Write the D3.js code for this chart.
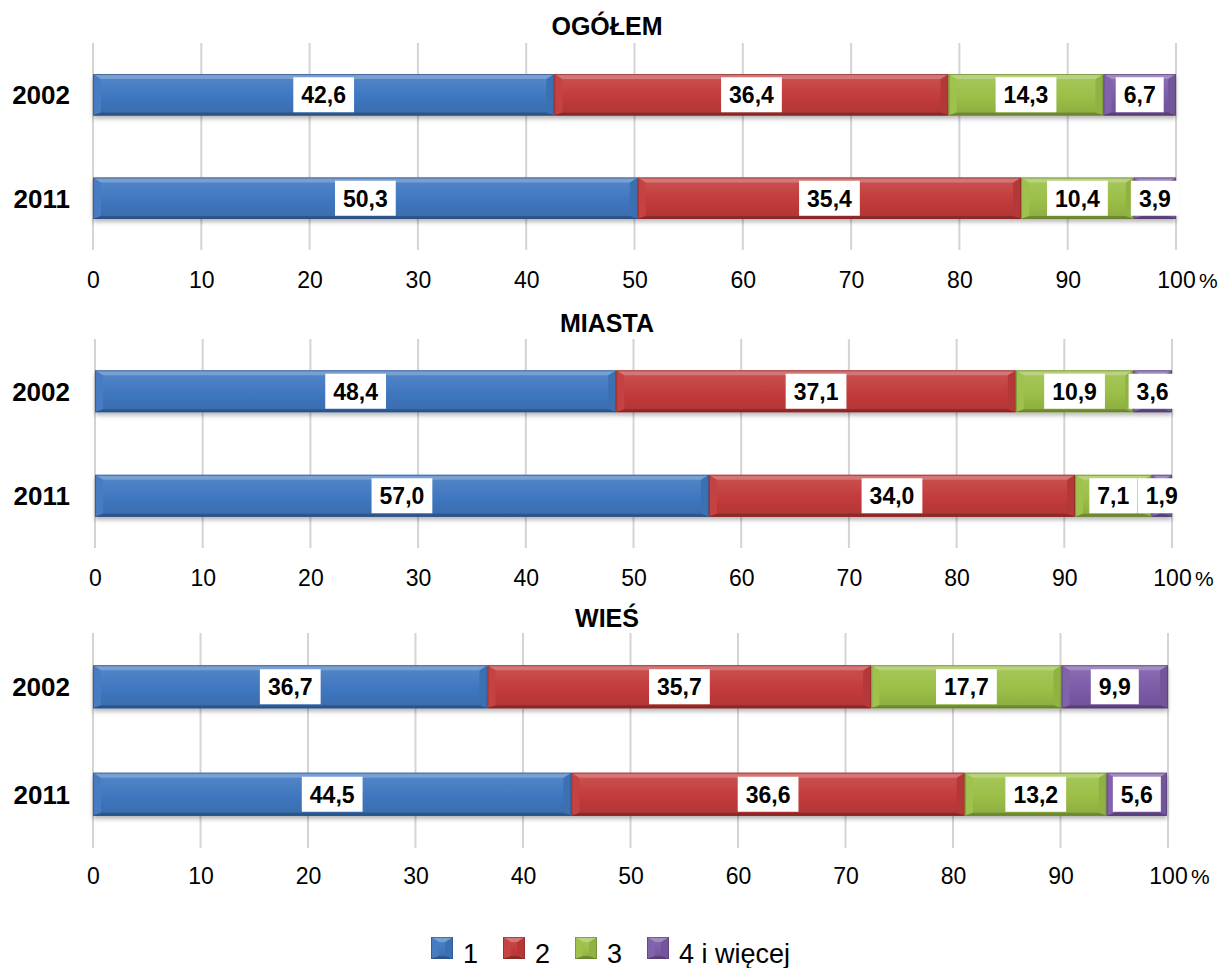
<!DOCTYPE html>
<html>
<head>
<meta charset="utf-8">
<script src="https://cdn.jsdelivr.net/npm/d3@7"></script>
<style>
  html, body { margin: 0; padding: 0; background: #fff; }
  svg { display: block; font-family: "Liberation Sans", Arial, sans-serif; }
</style>
</head>
<body>
<svg id="chart" width="1220" height="968"></svg>
<script>
// ---- data ----
const categories = ["2002", "2011"];
const seriesNames = ["1", "2", "3", "4 i więcej"];
const panelTitles = ["OGÓŁEM", "MIASTA", "WIEŚ"];
const ogolem2002 = [42.6, 36.4, 14.3, 6.7];
const ogolem2011 = [50.3, 35.4, 10.4, 3.9];
const miasta2002 = [48.4, 37.1, 10.9, 3.6];
const miasta2011 = [57.0, 34.0, 7.1, 1.9];
const wies2002 = [36.7, 35.7, 17.7, 9.9];
const wies2011 = [44.5, 36.6, 13.2, 5.6];
const tickValues = [0, 10, 20, 30, 40, 50, 60, 70, 80, 90, 100];
const seriesColors = ["#3f77c0", "#c33b3b", "#9bbf47", "#7c5ba8"];

const panelData = [
  [ogolem2002, ogolem2011],
  [miasta2002, miasta2011],
  [wies2002, wies2011]
];

// ---- layout ----
const layouts = [
  { x0: 93, x1: 1176, top: 43, bottom: 250, titleY: 35, tickY: 288 },
  { x0: 95, x1: 1172, top: 339, bottom: 548, titleY: 332, tickY: 586 },
  { x0: 93, x1: 1168, top: 633, bottom: 848, titleY: 627, tickY: 884 }
];

const svg = d3.select("#chart");
const defs = svg.append("defs");
const shadow = defs.append("filter").attr("id", "shadow")
  .attr("x", "-5%").attr("y", "-30%").attr("width", "110%").attr("height", "180%");
shadow.append("feDropShadow").attr("dx", 0).attr("dy", 3).attr("stdDeviation", 2.2)
  .attr("flood-color", "#000").attr("flood-opacity", 0.28);

const mixW = (c, t) => d3.interpolateRgb(c, "#ffffff")(t);
const mixB = (c, t) => d3.interpolateRgb(c, "#000000")(t);

seriesColors.forEach((c, i) => {
  const g = defs.append("linearGradient").attr("id", "grad" + i)
    .attr("x1", 0).attr("y1", 0).attr("x2", 0).attr("y2", 1);
  g.append("stop").attr("offset", "0%").attr("stop-color", mixW(c, 0.12));
  g.append("stop").attr("offset", "55%").attr("stop-color", c);
  g.append("stop").attr("offset", "100%").attr("stop-color", mixB(c, 0.1));
});

function bevel(g, xa, xb, y0, y1, i) {
  const c = seriesColors[i];
  const w = xb - xa, h = y1 - y0;
  const b = Math.min(8, w / 2), tt = Math.min(5, h / 2), tb = 3;
  g.append("rect").attr("x", xa).attr("y", y0).attr("width", w).attr("height", h)
    .attr("fill", "url(#grad" + i + ")");
  // left band
  g.append("polygon").attr("points", [[xa, y0], [xa + b, y0 + tt], [xa + b, y1 - tb], [xa, y1]].join(" "))
    .attr("fill", mixW(c, 0.04));
  // right band
  g.append("polygon").attr("points", [[xb, y0], [xb - b, y0 + tt], [xb - b, y1 - tb], [xb, y1]].join(" "))
    .attr("fill", mixB(c, 0.07));
  // top band
  g.append("polygon").attr("points", [[xa, y0], [xb, y0], [xb - b, y0 + tt], [xa + b, y0 + tt]].join(" "))
    .attr("fill", mixW(c, 0.3));
  // bottom band
  g.append("polygon").attr("points", [[xa, y1], [xb, y1], [xb - b, y1 - tb], [xa + b, y1 - tb]].join(" "))
    .attr("fill", mixB(c, 0.28));
  // outline
  g.append("rect").attr("x", xa + 0.5).attr("y", y0 + 0.5).attr("width", Math.max(0, w - 1)).attr("height", h - 1)
    .attr("fill", "none").attr("stroke", mixB(c, 0.35)).attr("stroke-width", 1).attr("stroke-opacity", 0.6);
}

const fmt = v => d3.format(".1f")(v).replace(".", ",");
const stack = d3.stack().keys(d3.range(seriesNames.length)).value((d, k) => d[k]);

panelData.forEach((rows, p) => {
  const L = layouts[p];
  const x = d3.scaleLinear().domain([0, 100]).range([L.x0, L.x1]);
  const y = d3.scaleBand().domain(categories).range([L.top, L.bottom])
    .paddingInner(0.6).paddingOuter(0.3);
  const g = svg.append("g");

  // title
  g.append("text").attr("x", 607).attr("y", L.titleY).attr("text-anchor", "middle")
    .attr("font-weight", "bold").attr("font-size", 25).attr("fill", "#000").text(panelTitles[p]);

  // gridlines
  g.append("g").selectAll("line").data(tickValues).join("line")
    .attr("x1", d => x(d)).attr("x2", d => x(d))
    .attr("y1", L.top).attr("y2", L.bottom)
    .attr("stroke", "#d4d4d4").attr("stroke-width", 2);

  // tick labels via axis
  const axis = d3.axisBottom(x).tickValues(tickValues).tickSize(0).tickPadding(0).tickFormat(d3.format("d"));
  const ax = g.append("g").attr("transform", `translate(0,${L.tickY})`).call(axis);
  ax.select(".domain").remove();
  ax.selectAll("text").attr("font-size", 23).attr("font-family", "Liberation Sans, Arial, sans-serif")
    .attr("fill", "#000").attr("dy", 0).attr("y", 0);
  g.append("text").attr("x", x(100) + 23).attr("y", L.tickY).attr("font-size", 21).attr("fill", "#000").text("%");

  // stacked bars
  const table = rows.map(r => r.slice());
  const stacked = stack(table);
  const barsG = g.append("g").attr("filter", "url(#shadow)");
  stacked.forEach((layer, i) => {
    layer.forEach((seg, r) => {
      bevel(barsG, x(seg[0]), x(seg[1]), y(categories[r]), y(categories[r]) + y.bandwidth(), i);
    });
  });

  // data labels
  const labG = g.append("g");
  stacked.forEach((layer, i) => {
    layer.forEach((seg, r) => {
      const cx = (x(seg[0]) + x(seg[1])) / 2;
      const cy = y(categories[r]) + y.bandwidth() / 2;
      const lg = labG.append("g");
      const rect = lg.append("rect").attr("fill", "#fff");
      const t = lg.append("text").attr("x", cx).attr("y", cy).attr("dy", "0.36em")
        .attr("text-anchor", "middle").attr("font-weight", "bold").attr("font-size", 23)
        .attr("fill", "#000").text(fmt(rows[r][i]));
      const tw = t.node().getComputedTextLength();
      rect.attr("x", cx - tw / 2 - 8).attr("y", cy - 17.5).attr("width", tw + 16).attr("height", 35);
    });
  });

  // category labels
  g.append("g").selectAll("text").data(categories).join("text")
    .attr("x", 70).attr("y", d => y(d) + y.bandwidth() / 2).attr("dy", "0.36em")
    .attr("text-anchor", "end").attr("font-weight", "bold").attr("font-size", 26)
    .attr("fill", "#000").text(d => d);
});

// legend
const legendX = [431, 503, 575, 647];
const leg = svg.append("g");
seriesNames.forEach((name, i) => {
  const lg = leg.append("g");
  bevel(lg, legendX[i], legendX[i] + 22, 937, 959, i);
  lg.append("text").attr("x", legendX[i] + 32).attr("y", 963).attr("font-size", 27)
    .attr("fill", "#000").text(name);
});
</script>
</body>
</html>
